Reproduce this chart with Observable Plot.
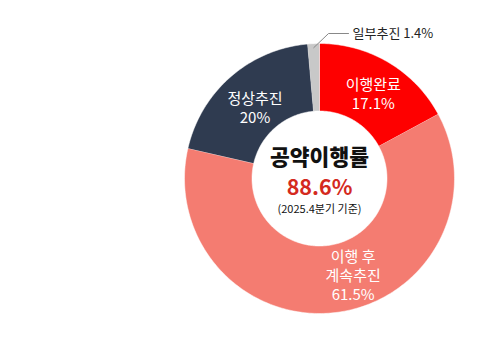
<!DOCTYPE html>
<html>
<head>
<meta charset="utf-8">
<script src="https://cdn.jsdelivr.net/npm/d3@7"></script>
<script src="https://cdn.jsdelivr.net/npm/@observablehq/plot@0.6"></script>
<style>
  html, body { margin: 0; padding: 0; background: #fff; }
  #chart { width: 500px; height: 360px; }
  svg { font-family: "Noto Sans CJK KR", "Noto Sans", sans-serif; }
</style>
</head>
<body>
<div id="chart"></div>
<script>
// Data (clockwise from 12 o'clock)
const categories = ["이행완료", "이행 후 계속추진", "정상추진", "일부추진"];
const values = [17.1, 61.5, 20, 1.4];
const colors = ["#fe0000", "#f47c71", "#2f3b50", "#c8c8c8"];
const sliceLabels = ["이행완료\n17.1%", "이행 후\n계속추진\n61.5%", "정상추진\n20%", "일부추진 1.4%"];
const centerTitle = "공약이행률";
const centerValue = "88.6%";
const centerNote = "(2025.4분기 기준)";

const innerR = 0.5, outerR = 1;
const total = d3.sum(values);

// Build slice polygons from the values
let acc = 0;
const slices = categories.map((name, i) => {
  const a0 = acc / total * 2 * Math.PI;
  acc += values[i];
  const a1 = acc / total * 2 * Math.PI;
  return {name, a0, a1, mid: (a0 + a1) / 2, label: sliceLabels[i], i};
});
const pts = [];
for (const s of slices) {
  const n = Math.max(2, Math.ceil((s.a1 - s.a0) / (Math.PI / 180)));
  const outer = d3.range(n + 1).map(k => s.a0 + (s.a1 - s.a0) * k / n);
  for (const a of outer) pts.push({name: s.name, x: Math.sin(a) * outerR, y: Math.cos(a) * outerR});
  for (const a of outer.slice().reverse()) pts.push({name: s.name, x: Math.sin(a) * innerR, y: Math.cos(a) * innerR});
}
const midR = (innerR + outerR) / 2;
const pos = s => ({x: Math.sin(s.mid) * midR, y: Math.cos(s.mid) * midR, label: s.label});

const gray = slices[3];
const lead = [
  {x: Math.sin(gray.mid) * 0.97, y: Math.cos(gray.mid) * 0.97},
  {x: 0.067, y: 1.074},
  {x: 0.215, y: 1.074}
];

const chart = Plot.plot({
  width: 500,
  height: 360,
  marginLeft: 184,
  marginRight: 46,
  marginTop: 43,
  marginBottom: 47,
  x: {domain: [-1, 1], axis: null},
  y: {domain: [-1, 1], axis: null},
  color: {domain: categories, range: colors},
  marks: [
    Plot.line(pts, {x: "x", y: "y", z: "name", fill: "name", stroke: "white", strokeWidth: 0.5, curve: "linear"}),
    Plot.line(lead, {x: "x", y: "y", stroke: "#888", strokeWidth: 1}),
    Plot.text([lead[2]], {x: "x", y: "y", text: () => sliceLabels[3], textAnchor: "start", dx: 4, fontSize: 13, fill: "#222"}),
    Plot.text([pos(slices[0])], {x: "x", y: "y", text: "label", fill: "white", fontSize: 15, lineHeight: 1.27, dx: 2, dy: 2}),
    Plot.text([pos(slices[1])], {x: "x", y: "y", text: "label", fill: "white", fontSize: 15, lineHeight: 1.27, dx: 20, dy: -4}),
    Plot.text([pos(slices[2])], {x: "x", y: "y", text: "label", fill: "white", fontSize: 15, lineHeight: 1.27, dx: 2, dy: 5}),
    Plot.text([{x: 0, y: 0}], {x: "x", y: "y", text: () => centerTitle, fontSize: 21.5, fontWeight: 900, fill: "#111", dy: -20}),
    Plot.text([{x: 0, y: 0}], {x: "x", y: "y", text: () => centerValue, fontSize: 21.5, fontWeight: 700, fill: "#d42a1e", dy: 10}),
    Plot.text([{x: 0, y: 0}], {x: "x", y: "y", text: () => centerNote, fontSize: 11, fill: "#111", dy: 30.5})
  ]
});
document.getElementById("chart").appendChild(chart);
</script>
</body>
</html>
